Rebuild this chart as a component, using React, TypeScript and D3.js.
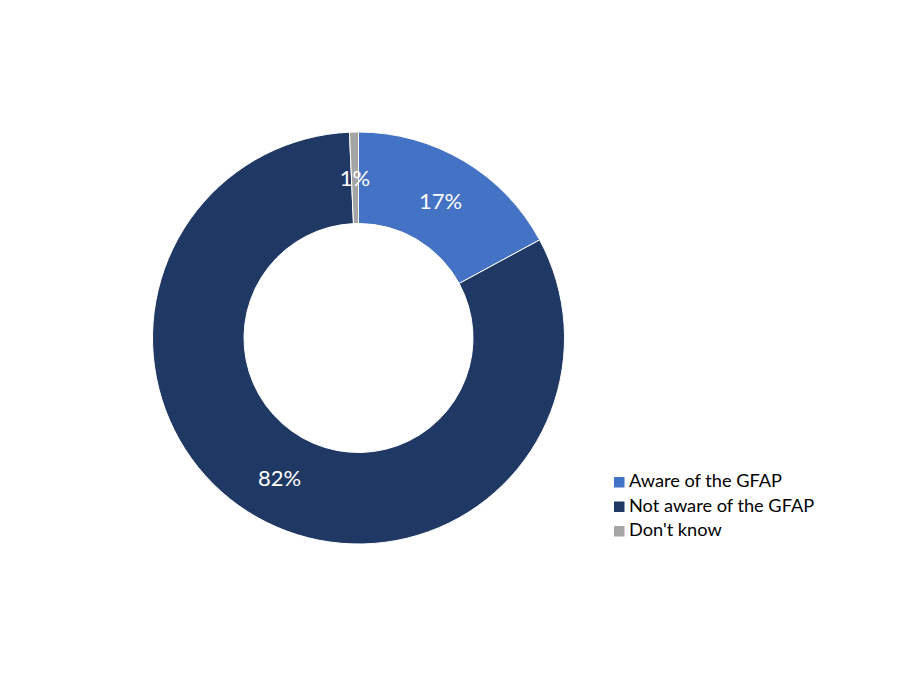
import React from "react";
import * as d3 from "d3";

const categories = ["Aware of the GFAP", "Not aware of the GFAP", "Don't know"];
const values = [17.1, 82.2, 0.7];
const labels = ["17%", "82%", "1%"];
const colors = ["#4472C4", "#203864", "#A5A5A5"];

export default function App() {
  const width = 900;
  const height = 675;
  const cx = 358.5;
  const cy = 338;
  const outerR = 206;
  const innerR = 114.5;
  const pie = d3.pie<number>().sort(null).value((d) => d)(values);
  const arc = d3.arc<d3.PieArcDatum<number>>().innerRadius(innerR).outerRadius(outerR);
  const labelArc = d3
    .arc<d3.PieArcDatum<number>>()
    .innerRadius((innerR + outerR) / 2)
    .outerRadius((innerR + outerR) / 2);
  const font = "Lato, 'Open Sans', sans-serif";
  return (
    <svg
      width={width}
      height={height}
      style={{ position: "absolute", left: 0, top: 0, background: "#fff" }}
    >
      <g transform={`translate(${cx},${cy})`}>
        {pie.map((p, i) => (
          <path key={i} d={arc(p) || ""} fill={colors[i]} stroke="#fff" strokeWidth={1} />
        ))}
        {pie.map((p, i) => {
          const [x, y] = labelArc.centroid(p);
          return (
            <text
              key={i}
              x={x}
              y={y}
              textAnchor="middle"
              dominantBaseline="central"
              fill="#fff"
              fontFamily={font}
              fontSize={22}
            >
              {labels[i]}
            </text>
          );
        })}
      </g>
      <g fontFamily={font} fontSize={18.2} fill="#000">
        {categories.map((c, i) => (
          <g key={i} transform={`translate(614,${487 + i * 24.5})`}>
            <rect x={0} y={-10} width={10.5} height={10.5} fill={colors[i]} />
            <text x={15} y={0}>
              {c}
            </text>
          </g>
        ))}
      </g>
    </svg>
  );
}
